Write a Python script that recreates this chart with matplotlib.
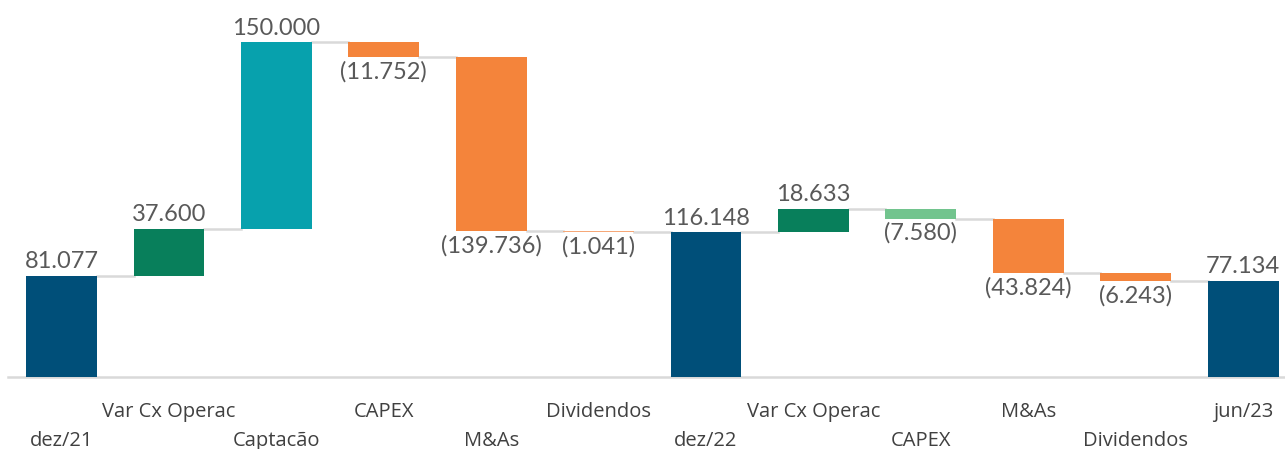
import matplotlib
matplotlib.use("Agg")
import matplotlib.pyplot as plt
import numpy as np

labels = ["dez/21", "Var Cx Operac", "Captacão", "CAPEX", "M&As", "Dividendos",
          "dez/22", "Var Cx Operac", "CAPEX", "M&As", "Dividendos", "jun/23"]
values = [81.077, 37.600, 150.000, -11.752, -139.736, -1.041,
          116.148, 18.633, -7.580, -43.824, -6.243, 77.134]
is_total = [True, False, False, False, False, False,
            True, False, False, False, False, True]
colors = ["#004F79", "#087F5B", "#07A1AD", "#F4843B", "#F4843B", "#F6A878",
          "#004F79", "#087F5B", "#72C48E", "#F4843B", "#F4843B", "#004F79"]

fig = plt.figure(figsize=(12.85, 4.49), dpi=100)
ax = fig.add_axes([0, 0, 1, 1])

n = len(values)
x = np.arange(n)
w = 0.66
bottoms = []
tops = []
level = 0.0
for i, v in enumerate(values):
    if is_total[i]:
        b, t = 0.0, v
        level = v
    else:
        b, t = (level, level + v) if v >= 0 else (level + v, level)
        level = level + v
    bottoms.append(b)
    tops.append(t)

heights = np.array(tops) - np.array(bottoms)
ax.bar(x, heights, bottom=bottoms, width=w, color=colors, zorder=3)

# connectors
level = 0.0
for i, v in enumerate(values):
    level = v if is_total[i] else level + v
    if i < n - 1:
        ax.plot([x[i] + w / 2, x[i + 1] - w / 2], [level, level],
                color="#D9D9D9", lw=1.8, zorder=2)

def fmt(v):
    s = f"{abs(v):.3f}"
    return f"({s})" if v < 0 else s

for i, v in enumerate(values):
    if v >= 0:
        ax.text(x[i], tops[i] + 3, fmt(v), ha="center", va="bottom",
                fontsize=17, color="#595959", family="Lato")
    else:
        ax.text(x[i], bottoms[i] - 3, fmt(v), ha="center", va="top",
                fontsize=17, color="#595959", family="Lato")

# baseline
ax.plot([-0.5, 11.5], [0, 0], color="#D9D9D9", lw=1.8, zorder=1)

for i, lab in enumerate(labels):
    y = -28.5 if i % 2 == 1 else -51
    ax.text(x[i], y, lab, ha="center", va="center", fontsize=14.5,
            color="#404040", family="Open Sans")

ax.set_xlim(-0.573, 11.39)
ax.set_ylim(-57.8, 302.6)
ax.axis("off")

fig.savefig("out.png", dpi=100)
